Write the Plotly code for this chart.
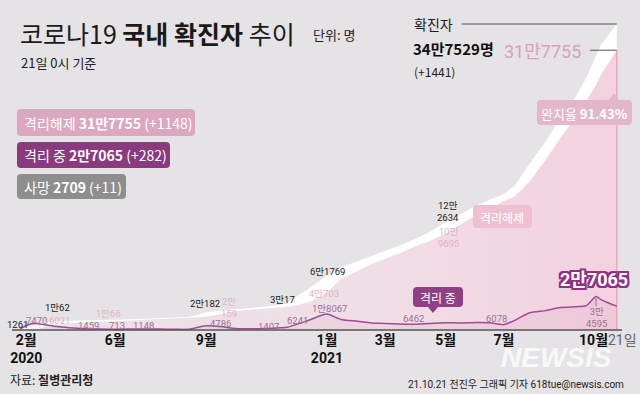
import plotly.graph_objects as go

# ---------------- data ----------------
dates = ["2020-02-26", "2020-03-05", "2020-03-13", "2020-03-22", "2020-04-03", "2020-04-15",
         "2020-05-01", "2020-05-15", "2020-06-01", "2020-06-15", "2020-07-01", "2020-07-15",
         "2020-08-01", "2020-08-14", "2020-08-25", "2020-09-01", "2020-09-15", "2020-10-01",
         "2020-10-15", "2020-11-01", "2020-11-15", "2020-11-22", "2020-12-01", "2020-12-15",
         "2021-01-01", "2021-01-15", "2021-02-01", "2021-02-15", "2021-03-01", "2021-03-15",
         "2021-03-29", "2021-04-15", "2021-05-01", "2021-05-15", "2021-06-01", "2021-06-15",
         "2021-06-28", "2021-07-10", "2021-07-25", "2021-08-10", "2021-08-25", "2021-09-10",
         "2021-09-20", "2021-09-30", "2021-10-05", "2021-10-12", "2021-10-21"]
confirmed = [1261, 6088, 7979, 8897, 10062, 10591,
             10774, 11018, 11503, 12121, 12850, 13612,
             14336, 14873, 17945, 20182, 22285, 23812,
             24889, 26635, 28769, 30017, 38000, 48000,
             61769, 71241, 78205, 84325, 90029, 95635,
             102141, 111419, 122634, 130772, 141476, 148273,
             154000, 164028, 189000, 214000, 241000, 266000,
             286000, 311289, 324000, 334000, 347529]
released = [22, 88, 510, 2909, 6021, 7757,
            9072, 9762, 10066, 10730, 11537, 12348,
            13233, 13817, 14219, 15100, 18000, 21590,
            23000, 24395, 25690, 26300, 28000, 32000,
            42500, 58000, 67000, 75000, 81000, 87000,
            94000, 101000, 109695, 119000, 131000, 138000,
            146000, 152000, 169000, 193000, 218000, 242000,
            260000, 278000, 290000, 302000, 317755]
isolating = [1236, 5957, 7470, 5884, 3867, 2609,
             1454, 996, 713, 1114, 1031, 1148,
             802, 751, 3416, 4786, 3900, 1800,
             1407, 1770, 2580, 3200, 6241, 11700,
             18067, 12000, 9900, 8000, 7500, 6900,
             6462, 7500, 8200, 8000, 8500, 8200,
             6078, 11000, 19500, 22000, 25500, 26500,
             27500, 38000, 34595, 31000, 27065]

xticks = ["2020-03-03", "2020-06-01", "2020-09-01", "2021-01-01", "2021-03-01",
          "2021-05-01", "2021-06-29", "2021-10-12"]
xticktext = ["<b>2월<br>2020</b>", "<b>6월</b>", "<b>9월</b>", "<b>1월<br>2021</b>", "<b>3월</b>",
             "<b>5월</b>", "<b>7월</b>",
             "<b>10월</b><span style='color:#666'>21일</span>"]

# ---------------- figure ----------------
W, H = 640, 394
BG = "#e5e3e5"
KR = "Noto Sans CJK KR"
NUM = "Roboto, Noto Sans CJK KR"


def P(x, y):
    return x / W, 1 - y / H


fig = go.Figure()

# total confirmed (white band)
fig.add_trace(go.Scatter(x=dates, y=confirmed, mode="lines", line=dict(width=0, color="white"),
                         fill="tozeroy", fillcolor="white", hoverinfo="skip"))
# released (pink area)
fig.add_trace(go.Scatter(x=dates, y=released, mode="lines", line=dict(width=0, color="#f2cbd9"),
                         fill="tozeroy",
                         fillgradient=dict(type="horizontal",
                                           colorscale=[[0, "#ebe2e7"], [0.6, "#f1dee6"], [1, "#f3d1de"]]),
                         hoverinfo="skip"))
# end vertical line for released
fig.add_trace(go.Scatter(x=[dates[-1], dates[-1]], y=[0, released[-1]], mode="lines",
                         line=dict(width=1.5, color="#eaa8c1"), hoverinfo="skip"))
# isolating line
fig.add_trace(go.Scatter(x=dates, y=isolating, mode="lines",
                         line=dict(width=1.5, color="#a34996", shape="spline", smoothing=0.6),
                         fill="tozeroy", fillcolor="rgba(170,80,150,0.07)", hoverinfo="skip"))

# leader lines to top-right labels
fig.add_shape(type="line", xref="x", yref="y", x0="2021-05-17", x1=dates[-1],
              y0=confirmed[-1], y1=confirmed[-1], line=dict(color="#555", width=1))
fig.add_shape(type="line", xref="x", yref="y", x0="2021-09-24", x1=dates[-1],
              y0=released[-1], y1=released[-1], line=dict(color="#555", width=1))

# baseline
x0, y0 = P(12, 330)
x1, _ = P(622, 330)
fig.add_shape(type="line", xref="paper", yref="paper", x0=x0, x1=x1, y0=y0, y1=y0,
              line=dict(color="#555", width=1.5))


def rrect(px0, py0, px1, py1, r, color, pointer=None):
    def p(x, y):
        a, b = P(x, y)
        return f"{a:.5f},{b:.5f}"
    d = f"M {p(px0 + r, py0)} "
    if pointer and pointer[0] == "up":
        px, tip = pointer[1], pointer[2]
        d += f"L {p(px - 5, py0)} L {p(px, tip)} L {p(px + 5, py0)} "
    d += (f"L {p(px1 - r, py0)} Q {p(px1, py0)} {p(px1, py0 + r)} "
          f"L {p(px1, py1 - r)} Q {p(px1, py1)} {p(px1 - r, py1)} ")
    if pointer and pointer[0] == "down":
        px, tip = pointer[1], pointer[2]
        d += f"L {p(px + 5, py1)} L {p(px, tip)} L {p(px - 5, py1)} "
    d += (f"L {p(px0 + r, py1)} Q {p(px0, py1)} {p(px0, py1 - r)} "
          f"L {p(px0, py0 + r)} Q {p(px0, py0)} {p(px0 + r, py0)} Z")
    fig.add_shape(type="path", xref="paper", yref="paper", path=d,
                  fillcolor=color, line=dict(width=0), layer="above")


# legend boxes
rrect(17, 109, 195, 136, 4, "#dba8c0")
rrect(17, 142, 170, 168, 4, "#8a3a7f")
rrect(17, 174, 126, 199, 4, "#8e8e8e")
# in-chart label boxes
rrect(537, 100, 632, 125, 4, "#e4b6c9", pointer=("up", 614, 93))
rrect(473, 205, 532, 228, 4, "#eec0d1")
rrect(413, 287, 463, 307, 4, "#8f3f84", pointer=("down", 433, 313))


def txt(x, y, text, size, color="#222", anchor="center", family=KR, shadow=None):
    a, b = P(x, y)
    f = dict(size=size, color=color, family=family)
    if shadow:
        f["shadow"] = shadow
    fig.add_annotation(x=a, y=b, xref="paper", yref="paper", text=text, showarrow=False,
                       xanchor=anchor, yanchor="middle", font=f)


# title block
txt(18, 33, "코로나19 <b>국내 확진자</b> 추이", 25, "#1a1a1a", "left")
txt(311, 35, "단위: 명", 13, "#222", "left")
txt(19, 63, "21일 0시 기준", 13, "#222", "left")

# legend texts
txt(22, 123, "격리해제 <b>31만7755</b> (+1148)", 14, "white", "left")
txt(22, 155, "격리 중 <b>2만7065</b> (+282)", 14, "white", "left")
txt(22, 187, "사망 <b>2709</b> (+11)", 14, "white", "left")

# top-right
txt(412, 24, "확진자", 14, "#1a1a1a", "left")
txt(411, 48, "<b>34만7529명</b>", 15, "#111", "left")
txt(412, 71, "(+1441)", 12, "#222", "left")
txt(583, 52, "31만7755", 18, "#d9a1b9", "right", family=NUM)
txt(584, 113, "완치율 <b>91.43%</b>", 13, "white")
txt(502, 217, "격리해제", 12, "white")
txt(438, 297, "격리 중", 12, "white")
txt(630, 279, "<b>2만7065</b>", 18, "white", "right", family=NUM,
    shadow="2px 0 0 #8f2f86, -2px 0 0 #8f2f86, 0 2px 0 #8f2f86, 0 -2px 0 #8f2f86, "
           "2px 2px 0 #8f2f86, -2px -2px 0 #8f2f86, 2px -2px 0 #8f2f86, -2px 2px 0 #8f2f86")

# data labels
BLK, PNK, PUR = "#1a1a1a", "#e2b2c6", "#9d6f95"
labels = [
    (17, 324, "1261", BLK), (36, 320, "7470", PUR), (59, 320, "6021", PNK), (57, 307, "1만62", BLK),
    (88, 325, "1459", PUR), (108, 313, "1만66", PNK), (117, 325, "713", PUR), (143, 325, "1148", PUR),
    (205, 303, "2만182", BLK), (229, 307, "2만<br>159", PNK), (220, 323, "4786", PUR),
    (282, 299, "3만17", BLK), (268, 326, "1407", PUR), (297, 320, "6241", PUR),
    (327, 271, "6만1769", BLK), (324, 293, "4만703", PNK), (329, 308, "1만8067", PUR),
    (448, 212, "12만<br>2634", BLK), (448, 237, "10만<br>9695", PNK),
    (413, 318, "6462", PUR), (496, 318, "6078", PUR), (596, 317, "3만<br>4595", PUR),
]
for x, y, t, c in labels:
    txt(x, y, t, 9.5, c, family=NUM)

# vertical tick near 3만4595
fig.add_shape(type="line", xref="paper", yref="paper", x0=P(596, 298)[0], x1=P(596, 306)[0],
              y0=P(596, 298)[1], y1=P(596, 306)[1], line=dict(color="#9d6f95", width=1))

# watermark & sources
txt(556, 357, "<b><i>NEWSIS</i></b>", 28, "rgba(255,255,255,0.8)", family="Liberation Sans, Arial")
txt(8, 379, "자료: <b>질병관리청</b>", 12, "#222", "left")
txt(626, 384, "21.10.21 전진우 그래픽 기자 618tue@newsis.com", 10, "#222", "right", family=NUM)

fig.update_layout(
    width=W, height=H, margin=dict(l=0, r=0, t=0, b=0),
    paper_bgcolor=BG, plot_bgcolor=BG, showlegend=False,
    font=dict(family=KR),
    xaxis=dict(type="date", domain=[0, 1], range=["2020-02-05 12:00", "2021-11-13 12:00"],
               showgrid=False, zeroline=False, showline=False, ticks="", automargin=False,
               tickmode="array", tickvals=xticks, ticktext=xticktext,
               tickfont=dict(size=14, color="#111", family=NUM), fixedrange=True),
    yaxis=dict(domain=[64 / H, 1], range=[0, 374787], visible=False, fixedrange=True),
)

fig.write_html("out.html", config={"displayModeBar": False},
               post_script="document.body.style.margin='0';document.body.style.overflow='hidden';")
